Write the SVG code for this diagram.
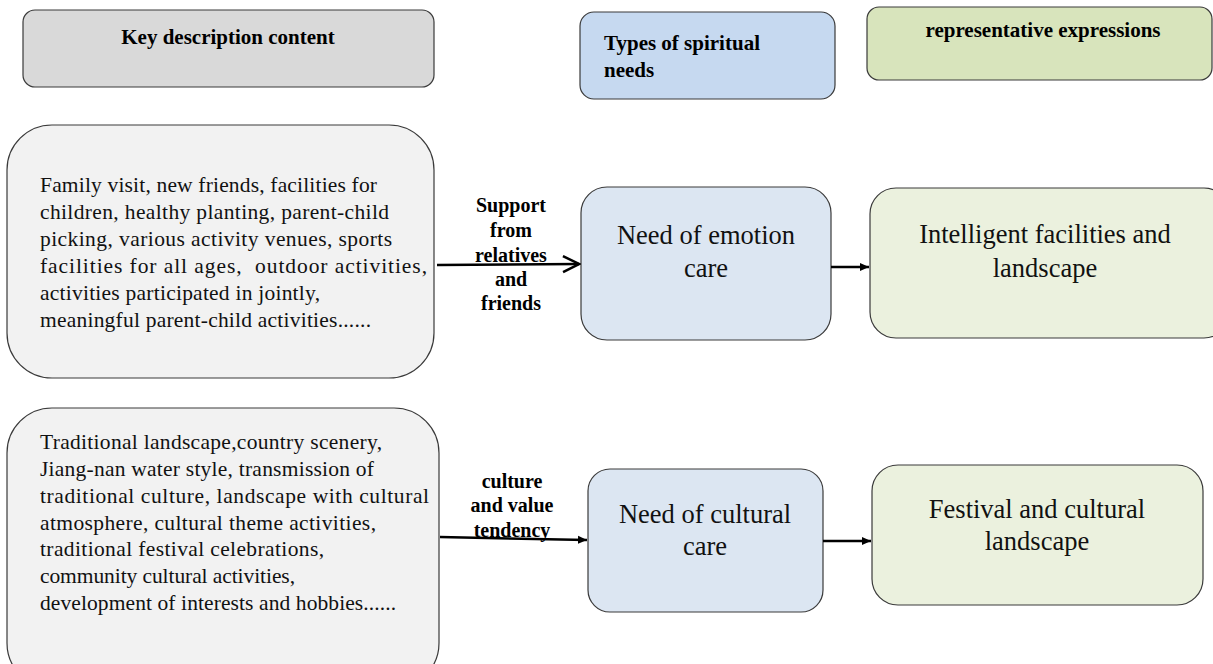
<svg xmlns="http://www.w3.org/2000/svg" width="1213" height="664" viewBox="0 0 1213 664">
<defs>
<style>
text{font-family:'Liberation Serif','Times New Roman',Times,serif}
.box{stroke:#3a3a3a;stroke-width:1.2}
.hdr{font-weight:bold;font-size:21px;fill:#000}
.body{font-size:21.5px;fill:#111}
.big{font-size:26.5px;fill:#111}
.lbl{font-weight:bold;font-size:20px;fill:#000}
.conn{stroke:#000;stroke-width:2.5;fill:none}
</style>
<marker id="tri" markerWidth="10" markerHeight="10" refX="9" refY="5" orient="auto" markerUnits="userSpaceOnUse">
<path d="M0,1 L9,5 L0,9 Z" fill="#000"/>
</marker>
<marker id="open" markerWidth="20" markerHeight="20" refX="18" refY="9" orient="auto" markerUnits="userSpaceOnUse">
<path d="M2,1 L18,9 L2,17" fill="none" stroke="#000" stroke-width="2.5"/>
</marker>
</defs>
<rect width="1213" height="664" fill="#fff"/>

<g id="h-key">
<rect class="box" x="23" y="10" width="411" height="77" rx="12" fill="#d9d9d9"/>
<text class="hdr" x="228" y="44" text-anchor="middle">Key description content</text>
</g>
<g id="h-types">
<rect class="box" x="580" y="12" width="255" height="87" rx="14" fill="#c6d9f0"/>
<text class="hdr" font-size="23" x="604" y="50">Types of spiritual</text>
<text class="hdr" font-size="23" x="604" y="77">needs</text>
</g>
<g id="h-repr">
<rect class="box" x="867" y="7" width="345" height="73" rx="12" fill="#d8e4bc"/>
<text class="hdr" x="1043" y="37" text-anchor="middle">representative expressions</text>
</g>

<g id="desc1">
<rect class="box" x="7" y="125" width="427" height="253" rx="45" fill="#f2f2f2"/>
<text class="body" x="40" y="192" textLength="337">Family visit, new friends, facilities for</text>
<text class="body" x="40" y="219" textLength="349">children, healthy planting, parent-child</text>
<text class="body" x="40" y="246" textLength="352">picking, various activity venues, sports</text>
<text class="body" x="40" y="273" textLength="387" xml:space="preserve">facilities for all ages,  outdoor activities,</text>
<text class="body" x="40" y="300" textLength="280">activities participated in jointly,</text>
<text class="body" x="40" y="327" textLength="331">meaningful parent-child activities......</text>
</g>

<g id="desc2">
<rect class="box" x="7" y="408" width="432" height="280" rx="45" fill="#f2f2f2"/>
<text class="body" x="40" y="449" textLength="342">Traditional landscape,country scenery,</text>
<text class="body" x="40" y="476" textLength="334">Jiang-nan water style, transmission of</text>
<text class="body" x="40" y="503" textLength="389">traditional culture, landscape with cultural</text>
<text class="body" x="40" y="530" textLength="336">atmosphere, cultural theme activities,</text>
<text class="body" x="40" y="556" textLength="284">traditional festival celebrations,</text>
<text class="body" x="40" y="583" textLength="255">community cultural activities,</text>
<text class="body" x="40" y="610" textLength="356">development of interests and hobbies......</text>
</g>

<g id="need-emotion">
<rect class="box" x="581" y="187" width="250" height="153" rx="26" fill="#dce6f2"/>
<text class="big" x="706" y="244" text-anchor="middle">Need of emotion</text>
<text class="big" x="706" y="277" text-anchor="middle">care</text>
</g>
<g id="expr-intel">
<rect class="box" x="870" y="188" width="360" height="150" rx="26" fill="#ebf1de"/>
<text class="big" x="1045" y="243" text-anchor="middle">Intelligent facilities and</text>
<text class="big" x="1045" y="277" text-anchor="middle">landscape</text>
</g>
<g id="need-culture">
<rect class="box" x="588" y="469" width="235" height="143" rx="22" fill="#dce6f2"/>
<text class="big" x="705" y="523" text-anchor="middle">Need of cultural</text>
<text class="big" x="705" y="555" text-anchor="middle">care</text>
</g>
<g id="expr-festival">
<rect class="box" x="872" y="465" width="331" height="140" rx="26" fill="#ebf1de"/>
<text class="big" x="1037" y="518" text-anchor="middle">Festival and cultural</text>
<text class="big" x="1037" y="550" text-anchor="middle">landscape</text>
</g>

<g id="connectors">
<line class="conn" x1="437" y1="265" x2="579" y2="264" marker-end="url(#open)"/>
<line class="conn" x1="831" y1="267" x2="869" y2="267" marker-end="url(#tri)"/>
<line class="conn" x1="440" y1="537" x2="587" y2="540" marker-end="url(#tri)"/>
<line class="conn" x1="823" y1="541" x2="871" y2="541" marker-end="url(#tri)"/>
<text class="lbl" x="511" y="212" text-anchor="middle">Support</text>
<text class="lbl" x="511" y="237" text-anchor="middle">from</text>
<text class="lbl" x="511" y="262" text-anchor="middle">relatives</text>
<text class="lbl" x="511" y="286" text-anchor="middle">and</text>
<text class="lbl" x="511" y="310" text-anchor="middle">friends</text>
<text class="lbl" x="512" y="488" text-anchor="middle">culture</text>
<text class="lbl" x="512" y="512" text-anchor="middle">and value</text>
<text class="lbl" x="512" y="537" text-anchor="middle">tendency</text>
</g>
</svg>
